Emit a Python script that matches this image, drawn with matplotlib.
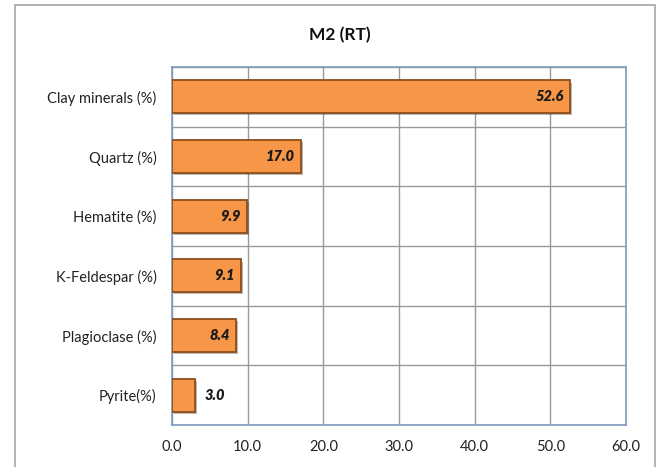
import matplotlib
matplotlib.use("Agg")
import matplotlib.pyplot as plt
import matplotlib.patheffects as pe
from matplotlib.patches import Rectangle
import numpy as np

plt.rcParams["font.family"] = ["Lato", "DejaVu Sans"]

categories = ["Clay minerals (%)", "Quartz (%)", "Hematite (%)",
              "K-Feldespar (%)", "Plagioclase (%)", "Pyrite(%)"]
values = [52.6, 17.0, 9.9, 9.1, 8.4, 3.0]
x_ticks = [0, 10, 20, 30, 40, 50, 60]

BAR_COLOR = "#F79646"
BAR_EDGE = "#8A4E1E"
GRID_COLOR = "#9A9A9A"
SPINE_COLOR = "#7F9AC0"

fig = plt.figure(figsize=(6.61, 4.67), dpi=100)
fig.patches.append(Rectangle((15 / 661, -0.1), 640 / 661, 1.1 - 5 / 467,
                             transform=fig.transFigure, fill=False,
                             edgecolor="#A6A6A6", linewidth=1.2))

ax = fig.add_axes([172 / 661, 1 - 425 / 467, 454 / 661, 358 / 467])
y = np.arange(len(categories))
bars = ax.barh(y, values, height=0.55, color=BAR_COLOR, edgecolor=BAR_EDGE,
               linewidth=1.3, zorder=3)
for b in bars:
    b.set_path_effects([pe.SimplePatchShadow(offset=(1.5, -1.5), alpha=0.35),
                        pe.Normal()])

for yi, v in zip(y, values):
    if v > 5:
        ax.text(v - 0.8, yi, f"{v:.1f}", ha="right", va="center",
                fontsize=10.5, fontweight="heavy", style="italic",
                color="#1a1a1a", zorder=4)
    else:
        ax.text(v + 1.3, yi, f"{v:.1f}", ha="left", va="center",
                fontsize=10.5, fontweight="heavy", style="italic",
                color="#1a1a1a", zorder=4)

ax.set_xlim(0, 60)
ax.set_ylim(len(categories) - 0.5, -0.5)
ax.set_xticks(x_ticks)
ax.set_xticklabels([f"{t:.1f}" for t in x_ticks], fontsize=10.5, color="#222222")
ax.set_yticks(y)
ax.set_yticklabels(categories, fontsize=10.5, color="#222222")
ax.set_yticks(np.arange(len(categories) + 1) - 0.5, minor=True)
ax.tick_params(axis="both", which="both", length=0)
ax.tick_params(axis="x", pad=11)
ax.tick_params(axis="y", pad=11)
ax.grid(axis="x", color=GRID_COLOR, linewidth=1.0, zorder=0)
ax.grid(axis="y", which="minor", color=GRID_COLOR, linewidth=1.0, zorder=0)
ax.grid(axis="y", which="major", visible=False)
for s in ax.spines.values():
    s.set_color(SPINE_COLOR)
    s.set_linewidth(1.2)

fig.text(340 / 661, 1 - 35 / 467, "M2 (RT)", ha="center", va="center",
         fontsize=12.5, fontweight="bold", color="#111111")

fig.savefig("out.png", dpi=100)
